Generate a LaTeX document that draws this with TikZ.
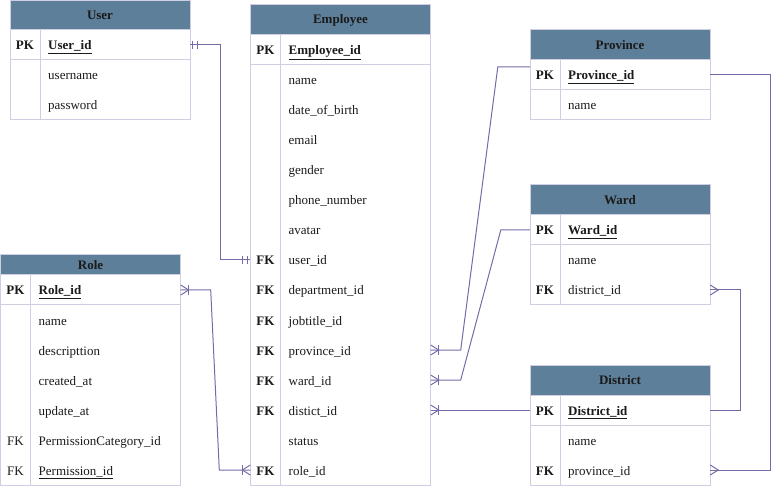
\documentclass[tikz,border=0pt]{standalone}
\usepackage{fontspec}
\setmainfont{Liberation Serif}
\usetikzlibrary{calc}
\definecolor{hdrfill}{HTML}{5D7F99}
\definecolor{bordc}{HTML}{D0CEE2}
\definecolor{connc}{HTML}{736CA8}
\definecolor{txtc}{HTML}{1A1A1A}
% field with key: name, divider x, row center y, key text, field text
\newcommand\erkeyfield[5]{%
  \node[keyt] (#1-k) at (#2-15,#3+5) {#4};
  \node[fld] (#1) at (#2+8,#3+5) {#5};}
\newcommand\erfield[4]{%
  \node[fld] (#1) at (#2+8,#3+5) {#4};}
\begin{document}
\begin{tikzpicture}[x=1pt,y=-1pt,
  hdrbox/.style={draw=bordc, line width=1pt, fill=hdrfill, inner sep=0pt,
    minimum width=180pt, font=\fontsize{13pt}{15pt}\selectfont\bfseries, text=txtc},
  tbody/.style={draw=bordc, line width=1pt},
  rowbox/.style={inner sep=0pt, minimum height=30pt, minimum width=180pt},
  keyt/.style={inner sep=0pt, anchor=base, text=txtc, font=\fontsize{13pt}{15pt}\selectfont},
  fld/.style={inner sep=0pt, anchor=base west, text=txtc, font=\fontsize{13pt}{15pt}\selectfont},
  conn/.style={draw=connc, line width=1pt},
]
\useasboundingbox (0,0) rectangle (779,486);

% ---------------- User ----------------
\node[hdrbox, minimum height=29pt] (user) at (100,15.5) {User};
\draw[tbody] (10,30) rectangle (190,120);
\draw[tbody] (40,30) -- (40,120);
\draw[tbody] (10,60) -- (190,60);
\node[rowbox] (user-id) at (100,45) {};
\erkeyfield{user-f0}{40}{45}{\textbf{PK}}{\textbf{\underline{User\_id}}}
\erfield{user-f1}{40}{75}{username}
\erfield{user-f2}{40}{105}{password}

% ---------------- Employee ----------------
\node[hdrbox, minimum height=30pt] (emp) at (340.5,20) {Employee};
\draw[tbody] (250.5,35) rectangle (430.5,485);
\draw[tbody] (280.5,35) -- (280.5,485);
\draw[tbody] (250.5,65) -- (430.5,65);
\erkeyfield{emp-f0}{280.5}{50}{\textbf{PK}}{\textbf{\underline{Employee\_id}}}
\erfield{emp-f1}{280.5}{80}{name}
\erfield{emp-f2}{280.5}{110}{date\_of\_birth}
\erfield{emp-f3}{280.5}{140}{email}
\erfield{emp-f4}{280.5}{170}{gender}
\erfield{emp-f5}{280.5}{200}{phone\_number}
\erfield{emp-f6}{280.5}{230}{avatar}
\erkeyfield{emp-f7}{280.5}{260}{\textbf{FK}}{user\_id}
\erkeyfield{emp-f8}{280.5}{290}{\textbf{FK}}{department\_id}
\erkeyfield{emp-f9}{280.5}{320}{\textbf{FK}}{jobtitle\_id}
\erkeyfield{emp-f10}{280.5}{350}{\textbf{FK}}{province\_id}
\erkeyfield{emp-f11}{280.5}{380}{\textbf{FK}}{ward\_id}
\erkeyfield{emp-f12}{280.5}{410}{\textbf{FK}}{distict\_id}
\erfield{emp-f13}{280.5}{440}{status}
\erkeyfield{emp-f14}{280.5}{470}{\textbf{FK}}{role\_id}
\node[rowbox] (emp-user) at (340.5,260) {};
\node[rowbox] (emp-prov) at (340.5,350) {};
\node[rowbox] (emp-ward) at (340.5,380) {};
\node[rowbox] (emp-dist) at (340.5,410) {};
\node[rowbox] (emp-role) at (340.5,470) {};

% ---------------- Role ----------------
\node[hdrbox, minimum height=20pt] (role) at (90.5,265) {Role};
\draw[tbody] (0.5,275) rectangle (180.5,485);
\draw[tbody] (30.5,275) -- (30.5,485);
\draw[tbody] (0.5,305) -- (180.5,305);
\node[rowbox] (role-id) at (90.5,290) {};
\erkeyfield{role-f0}{30.5}{290}{\textbf{PK}}{\textbf{\underline{Role\_id}}}
\erfield{role-f1}{30.5}{320}{name}
\erfield{role-f2}{30.5}{350}{descripttion}
\erfield{role-f3}{30.5}{380}{created\_at}
\erfield{role-f4}{30.5}{410}{update\_at}
\erkeyfield{role-f5}{30.5}{440}{FK}{PermissionCategory\_id}
\erkeyfield{role-f6}{30.5}{470}{FK}{\underline{Permission\_id}}

% ---------------- Province ----------------
\node[hdrbox, minimum height=30pt] (prov) at (620,45) {Province};
\draw[tbody] (530,60) rectangle (710,120);
\draw[tbody] (560,60) -- (560,120);
\draw[tbody] (530,90) -- (710,90);
\node[rowbox] (prov-id) at (620,75) {};
\erkeyfield{prov-f0}{560}{75}{\textbf{PK}}{\textbf{\underline{Province\_id}}}
\erfield{prov-f1}{560}{105}{name}

% ---------------- Ward ----------------
\node[hdrbox, minimum height=30pt] (ward) at (620,200) {Ward};
\draw[tbody] (530,215) rectangle (710,305);
\draw[tbody] (560,215) -- (560,305);
\draw[tbody] (530,245) -- (710,245);
\node[rowbox] (ward-id) at (620,230) {};
\node[rowbox] (ward-did) at (620,290) {};
\erkeyfield{ward-f0}{560}{230}{\textbf{PK}}{\textbf{\underline{Ward\_id}}}
\erfield{ward-f1}{560}{260}{name}
\erkeyfield{ward-f2}{560}{290}{\textbf{FK}}{district\_id}

% ---------------- District ----------------
\node[hdrbox, minimum height=30pt] (dist) at (620,380) {District};
\draw[tbody] (530,395) rectangle (710,485);
\draw[tbody] (560,395) -- (560,485);
\draw[tbody] (530,425) -- (710,425);
\node[rowbox] (dist-id) at (620,410) {};
\node[rowbox] (dist-pid) at (620,470) {};
\erkeyfield{dist-f0}{560}{410}{\textbf{PK}}{\textbf{\underline{District\_id}}}
\erfield{dist-f1}{560}{440}{name}
\erkeyfield{dist-f2}{560}{470}{\textbf{FK}}{province\_id}

% ---------------- Connectors ----------------
% User -- Employee (one and only one at both ends)
\draw[conn] (user-id.east) -- ++(30,0) |- (emp-user.west);
\draw[conn] ($(user-id.east)+(2.5,-4)$) -- ++(0,8);
\draw[conn] ($(user-id.east)+(7.5,-4)$) -- ++(0,8);
\draw[conn] ($(emp-user.west)+(-2.5,-4)$) -- ++(0,8);
\draw[conn] ($(emp-user.west)+(-7.5,-4)$) -- ++(0,8);

% Role -- Employee (one or many at both ends)
\draw[conn] (role-id.east) -- ++(30,0) -- ($(emp-role.west)+(-31,0)$) -- (emp-role.west);
\draw[conn] ($(role-id.east)+(0,-5)$) -- ++(8,5) -- ++(-8,5);
\draw[conn] ($(role-id.east)+(8,-5)$) -- ++(0,10);
\draw[conn] ($(emp-role.west)+(0,-5)$) -- ++(-8,5) -- ++(8,5);
\draw[conn] ($(emp-role.west)+(-8,-5)$) -- ++(0,10);

% Province -- Employee
\draw[conn] (emp-prov.east) -- ++(30,0) -- ($(prov-id.west)+(-32,-8)$) -- ($(prov-id.west)+(0,-8)$);
\draw[conn] ($(emp-prov.east)+(0,-5)$) -- ++(8,5) -- ++(-8,5);
\draw[conn] ($(emp-prov.east)+(8,-5)$) -- ++(0,10);

% Ward -- Employee
\draw[conn] (emp-ward.east) -- ++(30,0) -- ($(ward-id.west)+(-29,0)$) -- (ward-id.west);
\draw[conn] ($(emp-ward.east)+(0,-5)$) -- ++(8,5) -- ++(-8,5);
\draw[conn] ($(emp-ward.east)+(8,-5)$) -- ++(0,10);

% District -- Employee
\draw[conn] (dist-id.west) -- (emp-dist.east);
\draw[conn] ($(emp-dist.east)+(0,-5)$) -- ++(8,5) -- ++(-8,5);
\draw[conn] ($(emp-dist.east)+(8,-5)$) -- ++(0,10);

% Ward.district_id -- District
\draw[conn] (ward-did.east) -- ++(30,0) |- (dist-id.east);
\draw[conn] ($(ward-did.east)+(0,-5)$) -- ++(8,5) -- ++(-8,5);

% Province -- District.province_id
\draw[conn] (prov-id.east) -- ++(60,0) |- (dist-pid.east);
\draw[conn] ($(dist-pid.east)+(0,-5)$) -- ++(8,5) -- ++(-8,5);
\end{tikzpicture}
\end{document}
